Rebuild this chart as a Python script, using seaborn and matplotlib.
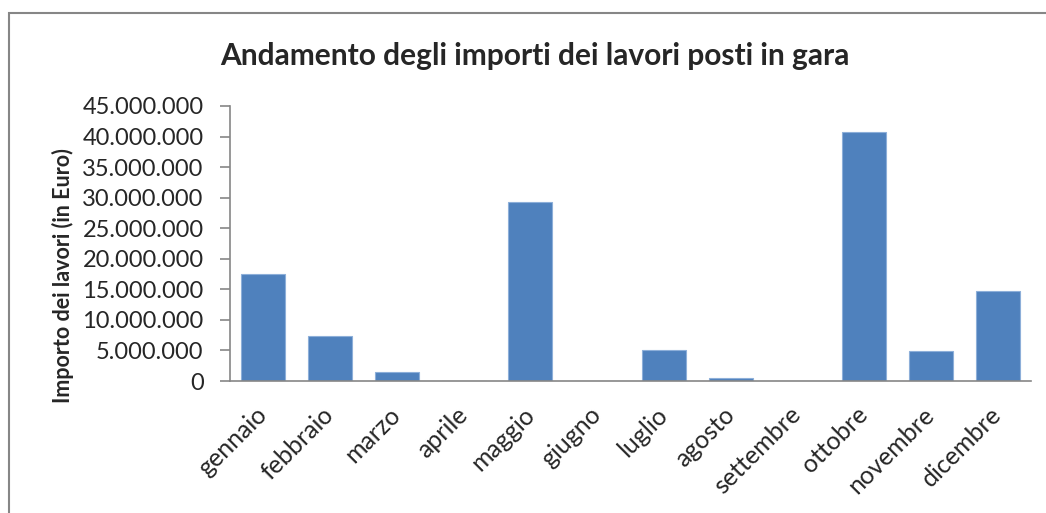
#import libraries
import pandas as pd
import matplotlib.pyplot as plt
import seaborn as sns
from matplotlib.ticker import FuncFormatter
from matplotlib.patches import Rectangle

#data
mesi = ["gennaio", "febbraio", "marzo", "aprile", "maggio", "giugno",
        "luglio", "agosto", "settembre", "ottobre", "novembre", "dicembre"]
importi = [17500000, 7400000, 1500000, 0, 29250000, 0,
           5100000, 450000, 0, 40800000, 4850000, 14700000]
y_ticks = [0, 5000000, 10000000, 15000000, 20000000, 25000000,
           30000000, 35000000, 40000000, 45000000]

df = pd.DataFrame({"Mese": mesi, "Importo": importi})

#style
sns.set_style("white")
plt.rcParams["font.family"] = ["Lato", "DejaVu Sans"]

fig = plt.figure(figsize=(10.46, 5.13), dpi=100)
ax = fig.add_axes([0.2199, 0.2573, 0.7658, 0.5361])

sns.barplot(
    data=df,
    x="Mese",
    y="Importo",
    color="#4F81BD",
    saturation=1,
    width=0.66,
    edgecolor="#8DAFD9",
    linewidth=0.8,
    ax=ax
)

ax.set_xlim(-0.5, len(mesi) - 0.5)
ax.set_ylim(0, 45000000)
ax.set_yticks(y_ticks)
ax.yaxis.set_major_formatter(FuncFormatter(lambda v, p: f"{v:,.0f}".replace(",", ".")))

ax.set_xlabel("")
ax.set_ylabel("")
fig.text(63 / 1046, 1 - 276 / 513, "Importo dei lavori (in Euro)",
         rotation=90, ha="center", va="center", fontsize=15.5, fontweight="bold")
fig.text(535 / 1046, 1 - 56 / 513, "Andamento degli importi dei lavori posti in gara",
         ha="center", va="center", fontsize=21.5, fontweight="bold")

for side in ["top", "right"]:
    ax.spines[side].set_visible(False)
for side in ["left", "bottom"]:
    ax.spines[side].set_color("#868686")
    ax.spines[side].set_linewidth(1.2)

ax.tick_params(axis="y", left=True, length=7, width=1.2, color="#868686",
               labelsize=17, pad=12)
ax.tick_params(axis="x", bottom=False, labelsize=18, pad=18)
plt.setp(ax.get_xticklabels(), rotation=45, ha="right", va="center",
         rotation_mode="anchor")

#outer chart border
fig.patches.append(Rectangle((9 / 1046, -0.1), 1.2, 1 - 13 / 513 + 0.1,
                             transform=fig.transFigure, fill=False,
                             edgecolor="#868686", linewidth=1.5))

plt.savefig("out.png", dpi=100)
